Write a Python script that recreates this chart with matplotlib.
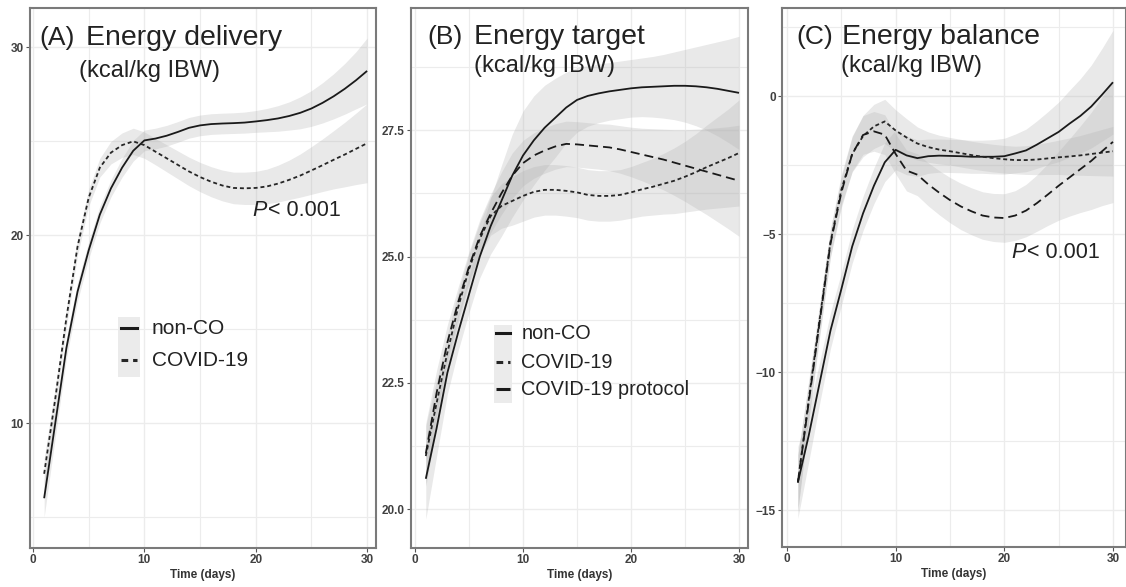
import numpy as np
import matplotlib
matplotlib.use("Agg")
import matplotlib.pyplot as plt
from matplotlib.patches import Rectangle
from matplotlib.ticker import MultipleLocator, FormatStrFormatter

plt.rcParams["font.family"] = ["Liberation Sans", "DejaVu Sans"]

# ── Data (smoothed curves, day 1..30) ───────────────────────────────────────

days = np.arange(1, 31)

# (A) Energy delivery
deliv_nonco = [6.0, 10.0, 14.0, 17.0, 19.2, 21.1, 22.5, 23.6, 24.5, 25.05,
               25.15, 25.3, 25.5, 25.72, 25.85, 25.92, 25.95, 25.97, 26.0, 26.06,
               26.13, 26.22, 26.35, 26.52, 26.75, 27.05, 27.4, 27.8, 28.25, 28.75]
deliv_nonco_se = [1.0, 0.75, 0.55, 0.5, 0.45, 0.45, 0.45, 0.5, 0.55, 0.55,
                  0.55, 0.55, 0.55, 0.55, 0.55, 0.55, 0.55, 0.55, 0.56, 0.58,
                  0.62, 0.68, 0.75, 0.85, 0.95, 1.07, 1.2, 1.35, 1.52, 1.75]
deliv_covid = [7.3, 11.3, 15.6, 19.4, 22.0, 23.6, 24.4, 24.8, 25.0, 24.8,
               24.45, 24.1, 23.75, 23.4, 23.1, 22.85, 22.65, 22.52, 22.5, 22.52,
               22.6, 22.75, 22.95, 23.18, 23.45, 23.73, 24.02, 24.3, 24.6, 24.9]
deliv_covid_se = [0.8, 0.6, 0.5, 0.45, 0.45, 0.5, 0.6, 0.65, 0.7, 0.7,
                  0.7, 0.72, 0.74, 0.76, 0.78, 0.8, 0.82, 0.84, 0.86, 0.88,
                  0.92, 0.98, 1.05, 1.15, 1.27, 1.4, 1.55, 1.72, 1.9, 2.1]

# (B) Energy target
target_nonco = [20.6, 21.6, 22.7, 23.5, 24.25, 25.0, 25.6, 26.1, 26.6, 27.0,
                27.3, 27.55, 27.75, 27.95, 28.1, 28.18, 28.23, 28.27, 28.3, 28.33,
                28.35, 28.36, 28.37, 28.38, 28.38, 28.37, 28.35, 28.32, 28.28, 28.24]
target_nonco_se = [0.8, 0.55, 0.42, 0.36, 0.36, 0.42, 0.55, 0.7, 0.82, 0.88,
                   0.88, 0.84, 0.78, 0.7, 0.64, 0.6, 0.58, 0.57, 0.57, 0.57,
                   0.58, 0.6, 0.63, 0.67, 0.72, 0.78, 0.85, 0.93, 1.02, 1.12]
target_covid = [21.05, 22.1, 23.1, 24.0, 24.75, 25.35, 25.8, 26.0, 26.1, 26.2,
                26.28, 26.32, 26.32, 26.3, 26.27, 26.22, 26.2, 26.2, 26.22, 26.27,
                26.33, 26.38, 26.44, 26.5, 26.58, 26.67, 26.77, 26.86, 26.95, 27.05]
target_covid_se = [0.6, 0.45, 0.35, 0.3, 0.3, 0.32, 0.38, 0.44, 0.48, 0.5,
                   0.5, 0.5, 0.5, 0.5, 0.5, 0.5, 0.5, 0.5, 0.5, 0.51,
                   0.53, 0.56, 0.6, 0.65, 0.7, 0.76, 0.83, 0.9, 0.97, 1.05]
target_proto = [21.1, 22.3, 23.3, 24.1, 24.8, 25.4, 25.85, 26.25, 26.6, 26.85,
                27.0, 27.1, 27.18, 27.23, 27.22, 27.2, 27.18, 27.16, 27.12, 27.07,
                27.02, 26.97, 26.92, 26.86, 26.8, 26.74, 26.68, 26.62, 26.56, 26.5]
target_proto_se = [0.6, 0.45, 0.35, 0.3, 0.3, 0.33, 0.38, 0.42, 0.45, 0.45,
                   0.45, 0.45, 0.45, 0.45, 0.45, 0.45, 0.45, 0.46, 0.47, 0.49,
                   0.52, 0.56, 0.6, 0.65, 0.71, 0.78, 0.85, 0.93, 1.01, 1.1]

# (C) Energy balance
bal_nonco = [-14.0, -12.3, -10.4, -8.5, -7.0, -5.45, -4.25, -3.25, -2.4, -1.95,
             -2.15, -2.25, -2.18, -2.16, -2.17, -2.18, -2.2, -2.2, -2.2, -2.18,
             -2.08, -1.97, -1.76, -1.53, -1.3, -1.0, -0.72, -0.38, 0.05, 0.5]
bal_nonco_se = [1.3, 0.95, 0.75, 0.65, 0.6, 0.6, 0.62, 0.65, 0.7, 0.72,
                0.7, 0.66, 0.62, 0.6, 0.6, 0.6, 0.6, 0.6, 0.62, 0.65,
                0.7, 0.77, 0.86, 0.96, 1.08, 1.21, 1.35, 1.5, 1.68, 1.88]
bal_covid = [-14.0, -11.0, -8.1, -5.3, -3.4, -2.1, -1.45, -1.1, -0.92, -1.25,
             -1.5, -1.72, -1.85, -1.94, -2.0, -2.07, -2.14, -2.2, -2.25, -2.29,
             -2.32, -2.32, -2.3, -2.26, -2.22, -2.19, -2.15, -2.1, -2.05, -2.0]
bal_covid_se = [1.0, 0.7, 0.55, 0.5, 0.55, 0.65, 0.75, 0.8, 0.8, 0.75,
                0.68, 0.6, 0.55, 0.52, 0.5, 0.5, 0.5, 0.5, 0.5, 0.5,
                0.5, 0.52, 0.55, 0.58, 0.62, 0.67, 0.72, 0.78, 0.84, 0.9]
bal_proto = [-14.0, -11.1, -8.2, -5.35, -3.5, -2.1, -1.41, -1.28, -1.4, -2.1,
             -2.7, -2.85, -3.2, -3.5, -3.77, -4.0, -4.18, -4.33, -4.4, -4.42,
             -4.33, -4.15, -3.88, -3.57, -3.25, -2.95, -2.65, -2.35, -2.0, -1.66]
bal_proto_se = [1.0, 0.7, 0.55, 0.5, 0.55, 0.62, 0.7, 0.72, 0.72, 0.72,
                0.74, 0.76, 0.78, 0.8, 0.82, 0.84, 0.85, 0.86, 0.87, 0.88,
                0.9, 0.95, 1.02, 1.12, 1.25, 1.4, 1.57, 1.76, 1.97, 2.2]

group_labels = ["non-CO", "COVID-19", "COVID-19 protocol"]

# ── Styling ──────────────────────────────────────────────────────────────────

LINE_STYLES = {
    "non-CO": dict(color="#1a1a1a", linestyle="-"),
    "COVID-19": dict(color="#262626", linestyle=(0, (2.2, 1.6))),
    "COVID-19 protocol": dict(color="#1a1a1a", linestyle=(0, (5.0, 2.8))),
}
LW = 1.3
BAND = dict(color="#b0b0b0", alpha=0.28, linewidth=0)
GRID = "#ececec"
TEXT = "#222222"


def style_axes(ax, xlim, ylim, ymajor, yfmt=None):
    ax.set_xlim(*xlim)
    ax.set_ylim(*ylim)
    ax.xaxis.set_major_locator(MultipleLocator(10))
    ax.xaxis.set_minor_locator(MultipleLocator(5))
    ax.yaxis.set_major_locator(MultipleLocator(ymajor))
    ax.yaxis.set_minor_locator(MultipleLocator(ymajor / 2))
    if yfmt:
        ax.yaxis.set_major_formatter(FormatStrFormatter(yfmt))
    ax.grid(which="major", color=GRID, linewidth=1.0, zorder=0)
    ax.grid(which="minor", color=GRID, linewidth=0.8, zorder=0)
    ax.set_axisbelow(True)
    ax.tick_params(which="major", length=3, width=0.8, color="#555555",
                   labelsize=8.5, labelcolor="#404040", pad=1.5)
    ax.tick_params(which="minor", length=0)
    for lab in ax.get_xticklabels() + ax.get_yticklabels():
        lab.set_fontweight("bold")
    for sp in ax.spines.values():
        sp.set_color("#7a7a7a")
        sp.set_linewidth(1.5)
    ax.set_xlabel("Time (days)", fontsize=8.5, fontweight="bold",
                  color="#333333", labelpad=2)


def draw_series(ax, series):
    for label, y, se in series:
        y = np.asarray(y)
        se = np.asarray(se)
        ax.fill_between(days, y - se, y + se, zorder=1, **BAND)
    for label, y, se in series:
        ax.plot(days, y, linewidth=LW, zorder=3, solid_capstyle="butt",
                dash_capstyle="butt", **LINE_STYLES[label])


def draw_titles(ax, tag, title, tag_x, title_x, sub_x, base_y, sub_y):
    ax.text(tag_x, base_y, tag, transform=ax.transAxes, fontsize=19,
            color=TEXT, va="baseline", ha="left")
    ax.text(title_x, base_y, title, transform=ax.transAxes, fontsize=20.5,
            color=TEXT, va="baseline", ha="left")
    ax.text(sub_x, sub_y, "(kcal/kg IBW)", transform=ax.transAxes,
            fontsize=17, color=TEXT, va="baseline", ha="left")


def draw_legend(ax, labels, box, rows, key_x, text_x, fontsize):
    x0, x1, y0, y1 = box
    ax.add_patch(Rectangle((x0, y0), x1 - x0, y1 - y0, transform=ax.transAxes,
                           facecolor="#ebebeb", edgecolor="none", zorder=4))
    for label, ry in zip(labels, rows):
        ax.plot(key_x, [ry, ry], transform=ax.transAxes, linewidth=2.2,
                zorder=5, clip_on=False, dash_capstyle="butt",
                **LINE_STYLES[label])
        ax.text(text_x, ry, label, transform=ax.transAxes, fontsize=fontsize,
                color=TEXT, va="center", ha="left", zorder=5)


def p_label(ax, x, y):
    ax.text(x, y, "P", transform=ax.transAxes, fontsize=15.5, style="italic",
            color=TEXT, va="baseline", ha="left")
    ax.text(x + 0.045, y, "< 0.001", transform=ax.transAxes, fontsize=15.5,
            color=TEXT, va="baseline", ha="left")


# ── Figure ──────────────────────────────────────────────────────────────────

fig = plt.figure(figsize=(11.26, 5.87), dpi=100)
ax_a = fig.add_axes([30 / 1126, 39 / 587, 346 / 1126, 540 / 587])
ax_b = fig.add_axes([411 / 1126, 39 / 587, 337 / 1126, 540 / 587])
ax_c = fig.add_axes([782 / 1126, 40 / 587, 344 / 1126, 539 / 587])

# (A)
draw_series(ax_a, [("non-CO", deliv_nonco, deliv_nonco_se),
                   ("COVID-19", deliv_covid, deliv_covid_se)])
style_axes(ax_a, (-0.27, 30.8), (3.35, 32.1), 10)
draw_titles(ax_a, "(A)", "Energy delivery", 0.026, 0.162, 0.143, 0.9315, 0.873)
p_label(ax_a, 0.643, 0.615)
draw_legend(ax_a, group_labels[:2], (0.254, 0.318, 0.3167, 0.4278),
            [0.4074, 0.3481], [0.262, 0.31], 0.352, 15)

# (B)
draw_series(ax_b, [("non-CO", target_nonco, target_nonco_se),
                   ("COVID-19", target_covid, target_covid_se),
                   ("COVID-19 protocol", target_proto, target_proto_se)])
style_axes(ax_b, (-0.37, 30.83), (19.23, 29.92), 2.5, "%.1f")
draw_titles(ax_b, "(B)", "Energy target", 0.048, 0.188, 0.188, 0.9333, 0.8815)
draw_legend(ax_b, group_labels, (0.246, 0.300, 0.2685, 0.413),
            [0.398, 0.3444, 0.2944], [0.252, 0.294], 0.327, 14.3)

# (C)
draw_series(ax_c, [("non-CO", bal_nonco, bal_nonco_se),
                   ("COVID-19", bal_covid, bal_covid_se),
                   ("COVID-19 protocol", bal_proto, bal_proto_se)])
style_axes(ax_c, (-0.46, 31.2), (-16.34, 3.19), 5)
draw_titles(ax_c, "(C)", "Energy balance", 0.041, 0.175, 0.172, 0.9333, 0.8815)
p_label(ax_c, 0.668, 0.537)

fig.savefig("out.png", dpi=100)
